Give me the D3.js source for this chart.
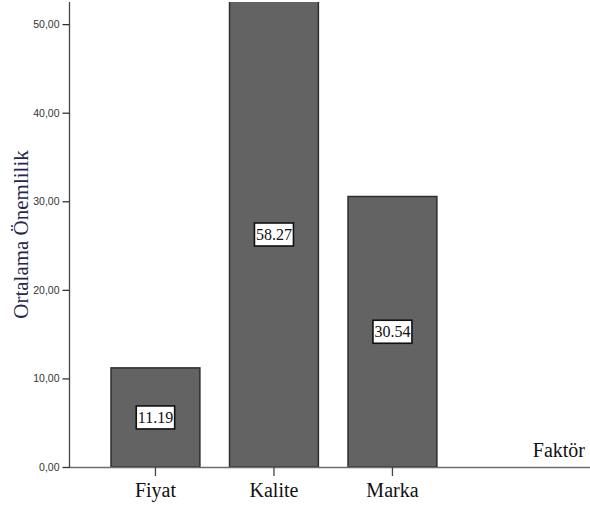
<!DOCTYPE html>
<html>
<head>
<meta charset="utf-8">
<script src="https://cdn.jsdelivr.net/npm/d3@7/dist/d3.min.js"></script>
<style>
  html, body { margin: 0; padding: 0; background: #fff; }
  svg { display: block; }
</style>
</head>
<body>
<svg id="chart" width="590" height="506"></svg>
<script>
// Factor importance: mean importance per factor
const categories = ["Fiyat", "Kalite", "Marka"];
const values = [11.19, 58.27, 30.54];
const valueLabels = ["11.19", "58.27", "30.54"];
const yTicks = [0, 10, 20, 30, 40, 50];
const yTitle = "Ortalama Önemlilik";
const xTitle = "Faktör";

const svg = d3.select("#chart");
const W = 590, H = 506;

const axisX = 69.5;      // vertical axis position
const baseY = 467;       // zero line
const topY = 2;          // top of value axis

const y = d3.scaleLinear().domain([0, 52.5]).range([baseY, topY]);
const x = d3.scaleBand()
  .domain(categories)
  .range([96.2, 451.7])
  .paddingInner(0.25)
  .paddingOuter(0.125);

// Plot clip so bars stay within the value axis range
svg.append("defs").append("clipPath").attr("id", "plotClip")
  .append("rect")
  .attr("x", axisX).attr("y", topY)
  .attr("width", W - axisX).attr("height", baseY - topY);

// Bars
const bars = svg.append("g").attr("clip-path", "url(#plotClip)");
bars.selectAll("rect")
  .data(categories)
  .join("rect")
  .attr("x", d => x(d))
  .attr("width", x.bandwidth())
  .attr("y", (d, i) => y(values[i]))
  .attr("height", (d, i) => baseY - y(values[i]))
  .attr("fill", "#636363")
  .attr("stroke", "#2e2e2e")
  .attr("stroke-width", 1.5);

// Category axis line (runs to the right edge)
svg.append("line")
  .attr("x1", axisX).attr("x2", W)
  .attr("y1", baseY + 0.5).attr("y2", baseY + 0.5)
  .attr("stroke", "#6e6e6e").attr("stroke-width", 1.4);

// Value axis
const yAxis = d3.axisLeft(y)
  .tickValues(yTicks)
  .tickSize(7)
  .tickPadding(3)
  .tickFormat(d => d3.format(".2f")(d).replace(".", ","));

const gy = svg.append("g")
  .attr("transform", `translate(${axisX},0)`)
  .call(yAxis);
gy.select(".domain").remove();
gy.selectAll(".tick line").attr("stroke", "#333").attr("stroke-width", 1.3);
gy.selectAll(".tick text")
  .attr("fill", "#333")
  .style("font-family", "'Liberation Sans', Arial, sans-serif")
  .style("font-size", "10.5px");
gy.append("line")
  .attr("x1", 0).attr("x2", 0)
  .attr("y1", topY).attr("y2", baseY + 1)
  .attr("stroke", "#444").attr("stroke-width", 1.3);

// Category ticks and labels
const xAxis = d3.axisBottom(x).tickSize(9).tickPadding(7);
const gx = svg.append("g")
  .attr("transform", `translate(0,${baseY})`)
  .call(xAxis);
gx.select(".domain").remove();
gx.selectAll(".tick line").attr("stroke", "#444").attr("stroke-width", 1.3);
gx.selectAll(".tick text")
  .attr("fill", "#111")
  .attr("dy", "0.71em")
  .style("font-family", "'Liberation Serif', 'Times New Roman', serif")
  .style("font-size", "20px");

// Value labels in boxes at bar midpoints
const labels = svg.append("g");
categories.forEach((c, i) => {
  const cx = x(c) + x.bandwidth() / 2;
  const top = Math.max(y(values[i]), topY);
  const cy = (top + baseY) / 2;
  const g = labels.append("g").attr("transform", `translate(${cx},${cy})`);
  const rect = g.append("rect");
  const t = g.append("text")
    .attr("text-anchor", "middle")
    .attr("dy", "0.35em")
    .attr("fill", "#111")
    .style("font-family", "'Liberation Serif', 'Times New Roman', serif")
    .style("font-size", "16px")
    .text(valueLabels[i]);
  const bb = t.node().getBBox();
  const bw = bb.width + 3, bh = 23;
  rect.attr("x", -bw / 2).attr("y", -bh / 2)
    .attr("width", bw).attr("height", bh)
    .attr("fill", "#fff").attr("stroke", "#111").attr("stroke-width", 1.6);
});

// Axis titles
svg.append("text")
  .attr("transform", `translate(28,${234.5}) rotate(-90)`)
  .attr("text-anchor", "middle")
  .attr("fill", "#26264e")
  .style("font-family", "'Liberation Serif', 'Times New Roman', serif")
  .style("font-size", "21px")
  .text(yTitle);

svg.append("text")
  .attr("x", 585).attr("y", 456.5)
  .attr("text-anchor", "end")
  .attr("fill", "#111")
  .style("font-family", "'Liberation Serif', 'Times New Roman', serif")
  .style("font-size", "20px")
  .text(xTitle);
</script>
</body>
</html>
